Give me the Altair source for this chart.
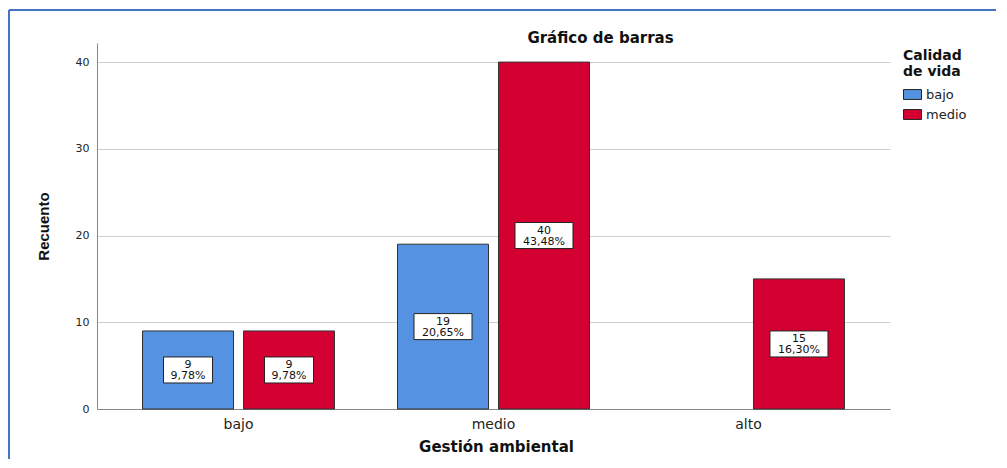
import altair as alt
import pandas as pd

# ---- data ----
categories = ["bajo", "medio", "alto"]           # Gestión ambiental
calidad_levels = ["bajo", "medio"]               # Calidad de vida
row_gestion = ["bajo", "bajo", "medio", "medio", "alto"]
row_calidad = ["bajo", "medio", "bajo", "medio", "medio"]
row_counts = [9, 9, 19, 40, 15]
row_pct = ["9,78%", "9,78%", "20,65%", "43,48%", "16,30%"]
colors = ["#5592E2", "#D50032"]

df = pd.DataFrame({
    "Gestion": row_gestion,
    "Calidad": row_calidad,
    "n": row_counts,
    "pct": row_pct,
})
df["label"] = df["n"].astype(str) + "\n" + df["pct"]

W, H = 793, 366

x_enc = alt.X("Gestion:N", sort=categories,
              scale=alt.Scale(domain=categories, paddingInner=0, paddingOuter=0.055),
              axis=alt.Axis(title="Gestión ambiental", labelAngle=0, ticks=False, tickSize=0,
                            labelFontSize=14, labelFont="DejaVu Sans", labelColor="#222",
                            labelPadding=8, labelBaseline="top",
                            titleFont="DejaVu Sans", titleFontSize=15, titleFontWeight="bold",
                            titleColor="#111", titleX=399, titleY=42, titleBaseline="alphabetic",
                            domainColor="#888", domainWidth=1, grid=False))
xoff = alt.XOffset("Calidad:N", sort=calidad_levels,
                   scale=alt.Scale(domain=calidad_levels, paddingInner=0.099, paddingOuter=0.312))
y_scale = alt.Scale(domain=[0, 42.2], nice=False, zero=True)

base = alt.Chart(df)

bars = base.mark_bar(stroke="#333", strokeWidth=1).encode(
    x=x_enc,
    xOffset=xoff,
    y=alt.Y("n:Q", scale=y_scale,
            axis=alt.Axis(title="Recuento", values=[0, 10, 20, 30, 40], ticks=False, tickSize=0,
                          labelFontSize=11, labelFont="DejaVu Sans", labelColor="#222",
                          labelPadding=8, gridColor="#cfcfcf", gridWidth=1,
                          domainColor="#888", domainWidth=1,
                          titleFont="Liberation Sans", titleFontSize=15, titleFontWeight="bold",
                          titleColor="#111", titleX=-46, titleY=H / 2, titleAngle=270,
                          titleBaseline="bottom", titleAlign="center")),
    color=alt.Color("Calidad:N", sort=calidad_levels,
                    scale=alt.Scale(domain=calidad_levels, range=colors),
                    legend=alt.Legend(title=["Calidad", "de vida"], orient="none",
                                      legendX=806, legendY=6, padding=0,
                                      titleFont="DejaVu Sans", titleFontSize=14,
                                      titleFontWeight="bold", titleColor="#111",
                                      titleLineHeight=16, titlePadding=6,
                                      labelFont="DejaVu Sans", labelFontSize=13,
                                      labelColor="#222", labelOffset=4,
                                      symbolType="M-1,-0.55H1V0.55H-1Z", symbolSize=324,
                                      symbolStrokeColor="#222", symbolStrokeWidth=1,
                                      rowPadding=3, symbolOpacity=1)),
)

boxes = base.transform_calculate(
    y0="datum.n / 2 - 1.5", y1="datum.n / 2 + 1.5", bw="length(datum.pct) * 9 + 4"
).mark_bar(fill="white", stroke="#222", strokeWidth=1).encode(
    x=alt.X("Gestion:N", sort=categories),
    xOffset=xoff,
    y=alt.Y("y0:Q", scale=y_scale),
    y2="y1:Q",
    size=alt.Size("bw:Q", scale=None, legend=None),
)

texts = base.transform_calculate(mid="datum.n / 2").mark_text(
    lineBreak="\n", font="DejaVu Sans", fontSize=11, color="#111",
    baseline="middle", align="center", lineHeight=11, dy=-5
).encode(
    x=alt.X("Gestion:N", sort=categories),
    xOffset=xoff,
    y=alt.Y("mid:Q", scale=y_scale),
    text="label:N",
)

frame_df = pd.DataFrame({"k": [0]})
frame_left = alt.Chart(frame_df).mark_rule(color="#4472C4", strokeWidth=2).encode(
    x=alt.value(-88), y=alt.value(-33), y2=alt.value(416))
frame_top = alt.Chart(frame_df).mark_rule(color="#4472C4", strokeWidth=2).encode(
    x=alt.value(-88), x2=alt.value(899), y=alt.value(-33))

chart = alt.layer(bars, boxes, texts, frame_left, frame_top).properties(
    width=W, height=H,
    autosize=alt.AutoSizeParams(type="none"),
    padding={"left": 89, "top": 35, "right": 109, "bottom": 50},
    title=alt.TitleParams("Gráfico de barras", font="DejaVu Sans", fontSize=15,
                          fontWeight="bold", color="#111", anchor="middle", frame="group",
                          dx=107, dy=55, offset=6, baseline="alphabetic"),
).configure(background="white").configure_view(stroke=None)

chart.save("out.html", embed_options={"renderer": "svg", "actions": False})
